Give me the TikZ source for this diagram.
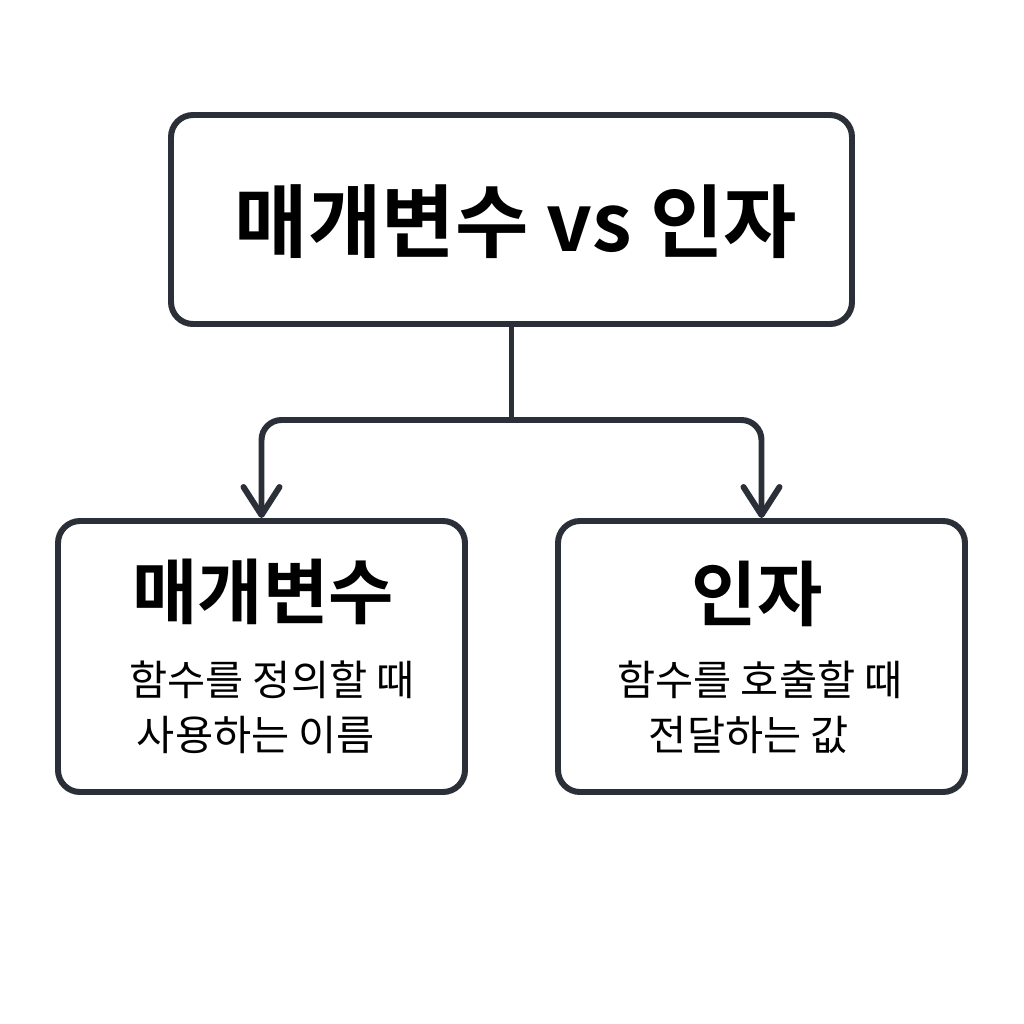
\documentclass[tikz,border=0pt]{standalone}
\usepackage{fontspec}
\newfontfamily\kr{Noto Sans CJK KR}[BoldFont={Noto Sans CJK KR Bold}]
\usetikzlibrary{arrows.meta,positioning}
\definecolor{cLine}{HTML}{2B3038}

\begin{document}
\begin{tikzpicture}[>={Straight Barb[round,length=2.8mm,width=3.6mm]},
   box/.style={draw=cLine,line width=1.7pt,rounded corners=2.2mm,fill=white},
   link/.style={draw=cLine,line width=1.7pt,line cap=round,rounded corners=2mm},
   big/.style={font=\kr\bfseries\fontsize{22.7}{27}\selectfont},
   head/.style={font=\kr\bfseries\fontsize{20.2}{24}\selectfont},
   note/.style={font=\kr\fontsize{11.8}{14}\selectfont}]
  \useasboundingbox[fill=white] (0,0) rectangle (10.24,-10.24);
  % boxes
  \node[box,minimum width=6.81cm,minimum height=2.09cm] (top) at (5.115,-2.195) {};
  \node[box,minimum width=4.07cm,minimum height=2.71cm] (left) at (2.615,-6.565) {};
  \node[box,minimum width=4.07cm,minimum height=2.71cm] (right) at (7.615,-6.565) {};
  % connectors
  \coordinate (split) at (5.115,-4.2);
  \draw[link] (top.south) -- (split);
  \draw[link,->] (split) -| (left.north);
  \draw[link,->] (split) -| (right.north);
  % labels
  \node[big] (title) at (5.16,-2.22) {매개변수 vs 인자};
  \node[head] (leftHead) at (2.63,-5.92) {매개변수};
  \node[note] (leftOne) at (2.72,-6.80) {함수를 정의할 때};
  \node[note] (leftTwo) at (2.56,-7.35) {사용하는 이름};
  \node[head] (rightHead) at (7.57,-5.94) {인자};
  \node[note] (rightOne) at (7.60,-6.80) {함수를 호출할 때};
  \node[note] (rightTwo) at (7.49,-7.35) {전달하는 값};
\end{tikzpicture}
\end{document}
